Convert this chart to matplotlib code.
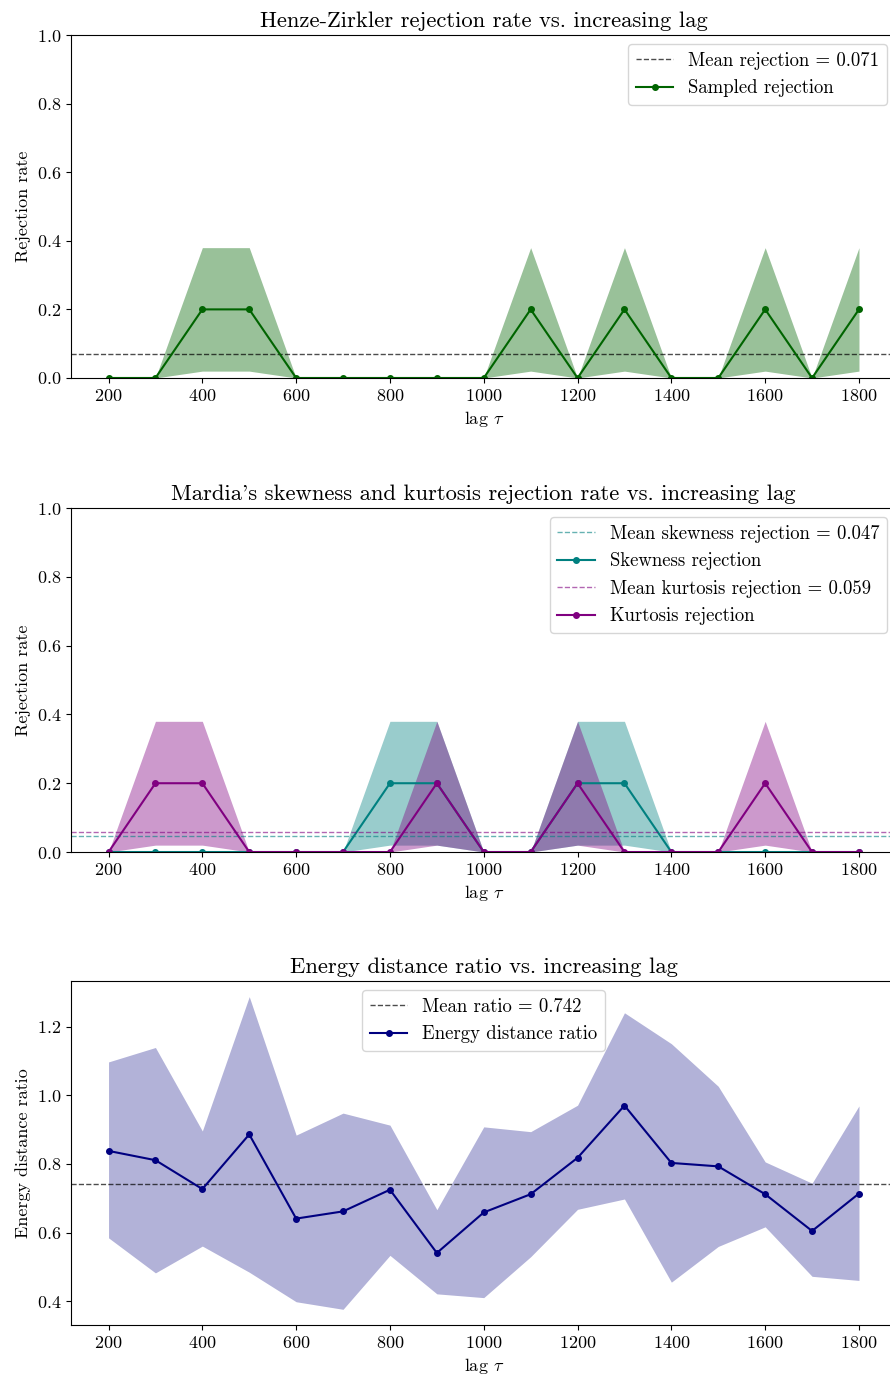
import matplotlib
matplotlib.use("Agg")
import matplotlib.pyplot as plt

# lags and per-lag statistics
lags = [200, 300, 400, 500, 600, 700, 800, 900, 1000,
        1100, 1200, 1300, 1400, 1500, 1600, 1700, 1800]

hz_rate = [0, 0, 0.2, 0.2, 0, 0, 0, 0, 0, 0.2, 0, 0.2, 0, 0, 0.2, 0, 0.2]
hz_lo = [0, 0, 0.02, 0.02, 0, 0, 0, 0, 0, 0.02, 0, 0.02, 0, 0, 0.02, 0, 0.02]
hz_hi = [0, 0, 0.38, 0.38, 0, 0, 0, 0, 0, 0.38, 0, 0.38, 0, 0, 0.38, 0, 0.38]

skew_rate = [0, 0, 0, 0, 0, 0, 0.2, 0.2, 0, 0, 0.2, 0.2, 0, 0, 0, 0, 0]
skew_lo = [0, 0, 0, 0, 0, 0, 0.02, 0.02, 0, 0, 0.02, 0.02, 0, 0, 0, 0, 0]
skew_hi = [0, 0, 0, 0, 0, 0, 0.38, 0.38, 0, 0, 0.38, 0.38, 0, 0, 0, 0, 0]

kurt_rate = [0, 0.2, 0.2, 0, 0, 0, 0, 0.2, 0, 0, 0.2, 0, 0, 0, 0.2, 0, 0]
kurt_lo = [0, 0.02, 0.02, 0, 0, 0, 0, 0.02, 0, 0, 0.02, 0, 0, 0, 0.02, 0, 0]
kurt_hi = [0, 0.38, 0.38, 0, 0, 0, 0, 0.38, 0, 0, 0.38, 0, 0, 0, 0.38, 0, 0]

ed_ratio = [0.838, 0.811, 0.727, 0.886, 0.641, 0.662, 0.725, 0.541, 0.659,
            0.712, 0.818, 0.970, 0.803, 0.793, 0.712, 0.605, 0.714]
ed_lo = [0.585, 0.483, 0.561, 0.485, 0.399, 0.377, 0.534, 0.422, 0.411,
         0.530, 0.668, 0.698, 0.456, 0.560, 0.617, 0.473, 0.461]
ed_hi = [1.097, 1.139, 0.896, 1.287, 0.884, 0.948, 0.913, 0.667, 0.908,
         0.894, 0.971, 1.240, 1.150, 1.026, 0.806, 0.744, 0.969]

hz_mean = sum(hz_rate) / len(hz_rate)
skew_mean = sum(skew_rate) / len(skew_rate)
kurt_mean = sum(kurt_rate) / len(kurt_rate)
ed_mean = sum(ed_ratio) / len(ed_ratio)

plt.rcParams["font.family"] = "serif"
plt.rcParams["font.serif"] = ["cmr10"]
plt.rcParams["mathtext.fontset"] = "cm"
plt.rcParams["axes.formatter.use_mathtext"] = True
plt.rcParams["font.size"] = 13
plt.rcParams["legend.fontsize"] = 13.5
plt.rcParams["axes.titlesize"] = 16.3
plt.rcParams["axes.unicode_minus"] = False

fig = plt.figure(figsize=(8.9, 13.78), dpi=100)
left, width = 0.0798, 0.9275
ax1 = fig.add_axes([left, 0.7257, width, 0.2489])
ax2 = fig.add_axes([left, 0.3817, width, 0.2496])
ax3 = fig.add_axes([left, 0.0385, width, 0.2496])

# Henze-Zirkler
ax1.fill_between(lags, hz_lo, hz_hi, color="darkgreen", alpha=0.4, lw=0)
ax1.axhline(hz_mean, color="k", ls="--", lw=1, alpha=0.7,
            label=f"Mean rejection = {hz_mean:.3f}")
ax1.plot(lags, hz_rate, "o-", color="darkgreen", ms=4, lw=1.5,
         label="Sampled rejection")
ax1.set_ylim(0, 1.0)
ax1.set_title("Henze-Zirkler rejection rate vs. increasing lag")
ax1.set_xlabel(r"lag $\tau$")
ax1.set_ylabel("Rejection rate")
ax1.legend(loc="upper right")

# Mardia
ax2.fill_between(lags, skew_lo, skew_hi, color="teal", alpha=0.4, lw=0)
ax2.fill_between(lags, kurt_lo, kurt_hi, color="purple", alpha=0.4, lw=0)
ax2.axhline(skew_mean, color="teal", ls="--", lw=1, alpha=0.6,
            label=f"Mean skewness rejection = {skew_mean:.3f}")
ax2.plot(lags, skew_rate, "o-", color="teal", ms=4, lw=1.5,
         label="Skewness rejection")
ax2.axhline(kurt_mean, color="purple", ls="--", lw=1, alpha=0.6,
            label=f"Mean kurtosis rejection = {kurt_mean:.3f}")
ax2.plot(lags, kurt_rate, "o-", color="purple", ms=4, lw=1.5,
         label="Kurtosis rejection")
ax2.set_ylim(0, 1.0)
ax2.set_title("Mardia's skewness and kurtosis rejection rate vs. increasing lag")
ax2.set_xlabel(r"lag $\tau$")
ax2.set_ylabel("Rejection rate")
ax2.legend(loc="upper right")

# Energy distance
ax3.fill_between(lags, ed_lo, ed_hi, color="navy", alpha=0.3, lw=0)
ax3.axhline(ed_mean, color="k", ls="--", lw=1, alpha=0.7,
            label=f"Mean ratio = {ed_mean:.3f}")
ax3.plot(lags, ed_ratio, "o-", color="navy", ms=4, lw=1.5,
         label="Energy distance ratio")
ax3.set_title("Energy distance ratio vs. increasing lag")
ax3.set_xlabel(r"lag $\tau$")
ax3.set_ylabel("Energy distance ratio")
ax3.legend(loc="upper center")

for ax in (ax1, ax2, ax3):
    ax.set_xticks(range(200, 1801, 200))

fig.savefig("out.png", dpi=100)
